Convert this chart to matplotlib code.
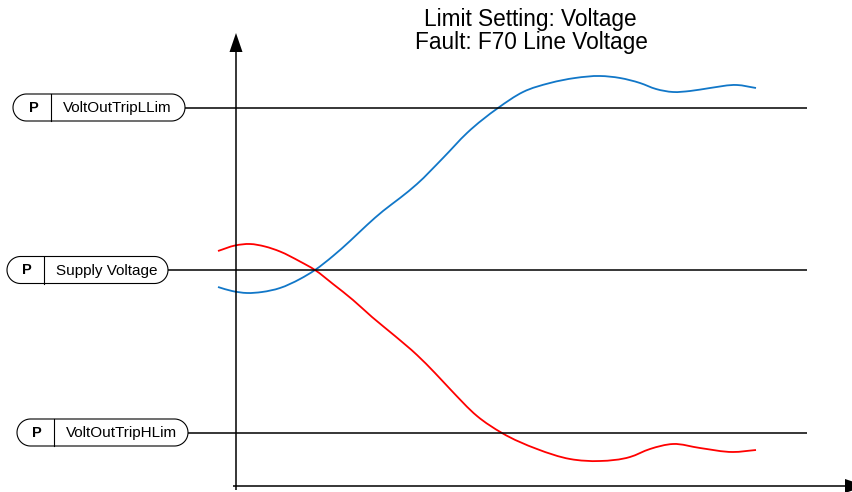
import matplotlib
matplotlib.use("Agg")
import numpy as np
import matplotlib.pyplot as plt
from matplotlib.patches import Polygon, PathPatch
from matplotlib.path import Path

plt.rcParams['font.family'] = ['Liberation Sans', 'DejaVu Sans']

# ---- data (pixel-space coordinates) ----
title_lines = ["Limit Setting: Voltage", "Fault: F70 Line Voltage"]

param_names = ["VoltOutTripLLim", "Supply Voltage", "VoltOutTripHLim"]
param_levels = [107.5, 270.0, 432.5]
box_left = [13, 7, 17]
box_right = [185, 168, 188]
box_divider = [51, 44, 54]

blue_x = [218, 232, 247, 262, 280, 300, 315, 333, 350, 367, 383, 400, 417, 443, 467, 498,
          523, 550, 575, 600, 620, 640, 656, 673, 690, 710, 737, 756]
blue_y = [287, 291, 293, 292, 288, 279, 270, 256, 241, 225, 211, 198, 184, 158, 133, 108,
          92, 83, 78, 76, 78, 83, 89, 92, 91, 88, 85, 88]

red_x = [218, 235, 250, 265, 280, 300, 315, 333, 353, 372, 395, 417, 435, 450, 477, 502,
         537, 570, 600, 630, 650, 673, 700, 733, 756]
red_y = [251, 245.5, 244, 246.5, 251.5, 261.5, 270, 284, 300, 317, 336, 355, 373, 389, 416, 433,
         449, 459, 461, 457, 449, 444, 448, 452, 450]

line_end = 807
axis_x = 236
axis_y = 486


def smooth_path(xs, ys):
    """Cubic Hermite Bezier path through the given points (x increasing)."""
    x = np.asarray(xs, float)
    y = np.asarray(ys, float)
    n = len(x)
    m = np.zeros(n)
    m[0] = (y[1] - y[0]) / (x[1] - x[0])
    m[-1] = (y[-1] - y[-2]) / (x[-1] - x[-2])
    for i in range(1, n - 1):
        h0, h1 = x[i] - x[i - 1], x[i + 1] - x[i]
        s0, s1 = (y[i] - y[i - 1]) / h0, (y[i + 1] - y[i]) / h1
        m[i] = (s0 * h1 + s1 * h0) / (h0 + h1)
    verts = [(x[0], y[0])]
    codes = [Path.MOVETO]
    for i in range(n - 1):
        hh = x[i + 1] - x[i]
        verts += [(x[i] + hh / 3, y[i] + m[i] * hh / 3),
                  (x[i + 1] - hh / 3, y[i + 1] - m[i + 1] * hh / 3),
                  (x[i + 1], y[i + 1])]
        codes += [Path.CURVE4] * 3
    return Path(verts, codes)


def stadium(l, r, cy, h):
    rad = h / 2
    t1 = np.linspace(-np.pi / 2, np.pi / 2, 40)
    right = np.column_stack([r - rad + rad * np.cos(t1), cy + rad * np.sin(t1)])
    t2 = np.linspace(np.pi / 2, 3 * np.pi / 2, 40)
    left = np.column_stack([l + rad + rad * np.cos(t2), cy + rad * np.sin(t2)])
    return np.vstack([right, left])


# ---- figure ----
fig = plt.figure(figsize=(8.53, 4.92), dpi=100)
ax = fig.add_axes([0, 0, 1, 1])
ax.set_xlim(0, 853)
ax.set_ylim(492, 0)
ax.axis('off')

# axes arrows
ax.plot([axis_x, axis_x], [490, 50], color='black', lw=1.1, solid_capstyle='butt')
ax.add_patch(Polygon([[axis_x, 33], [axis_x - 6.5, 52], [axis_x + 6.5, 52]],
                     closed=True, color='black', lw=0))
ax.plot([233, 847], [axis_y, axis_y], color='black', lw=1.1, solid_capstyle='butt')
ax.add_patch(Polygon([[866, axis_y], [845, axis_y - 7], [845, axis_y + 7]],
                     closed=True, color='black', lw=0, clip_on=True))

# parameter lines and boxes
h = 27
for name, lvl, l, r, d in zip(param_names, param_levels, box_left, box_right, box_divider):
    ax.plot([r, line_end], [lvl, lvl], color='black', lw=1.1, solid_capstyle='butt')
    ax.add_patch(Polygon(stadium(l, r, lvl, h), closed=True,
                         fc='white', ec='black', lw=0.8))
    ax.plot([d, d], [lvl - h / 2, lvl + h / 2], color='black', lw=0.8)
    ax.text((l + d) / 2 + 1.5, lvl + 0.5, "P", fontsize=10.5, fontweight='bold',
            ha='center', va='center')
    ax.text(d + 12, lvl + 0.5, name, fontsize=11, ha='left', va='center')

# curves
ax.add_patch(PathPatch(smooth_path(blue_x, blue_y), fc='none', ec='#1177C8', lw=1.3))
ax.add_patch(PathPatch(smooth_path(red_x, red_y), fc='none', ec='#FF0000', lw=1.3))

# title
ax.text(530, 26, title_lines[0], fontsize=16.3, ha='center', va='baseline')
ax.text(531, 48.5, title_lines[1], fontsize=16.3, ha='center', va='baseline')

fig.savefig("out.png", dpi=100)
